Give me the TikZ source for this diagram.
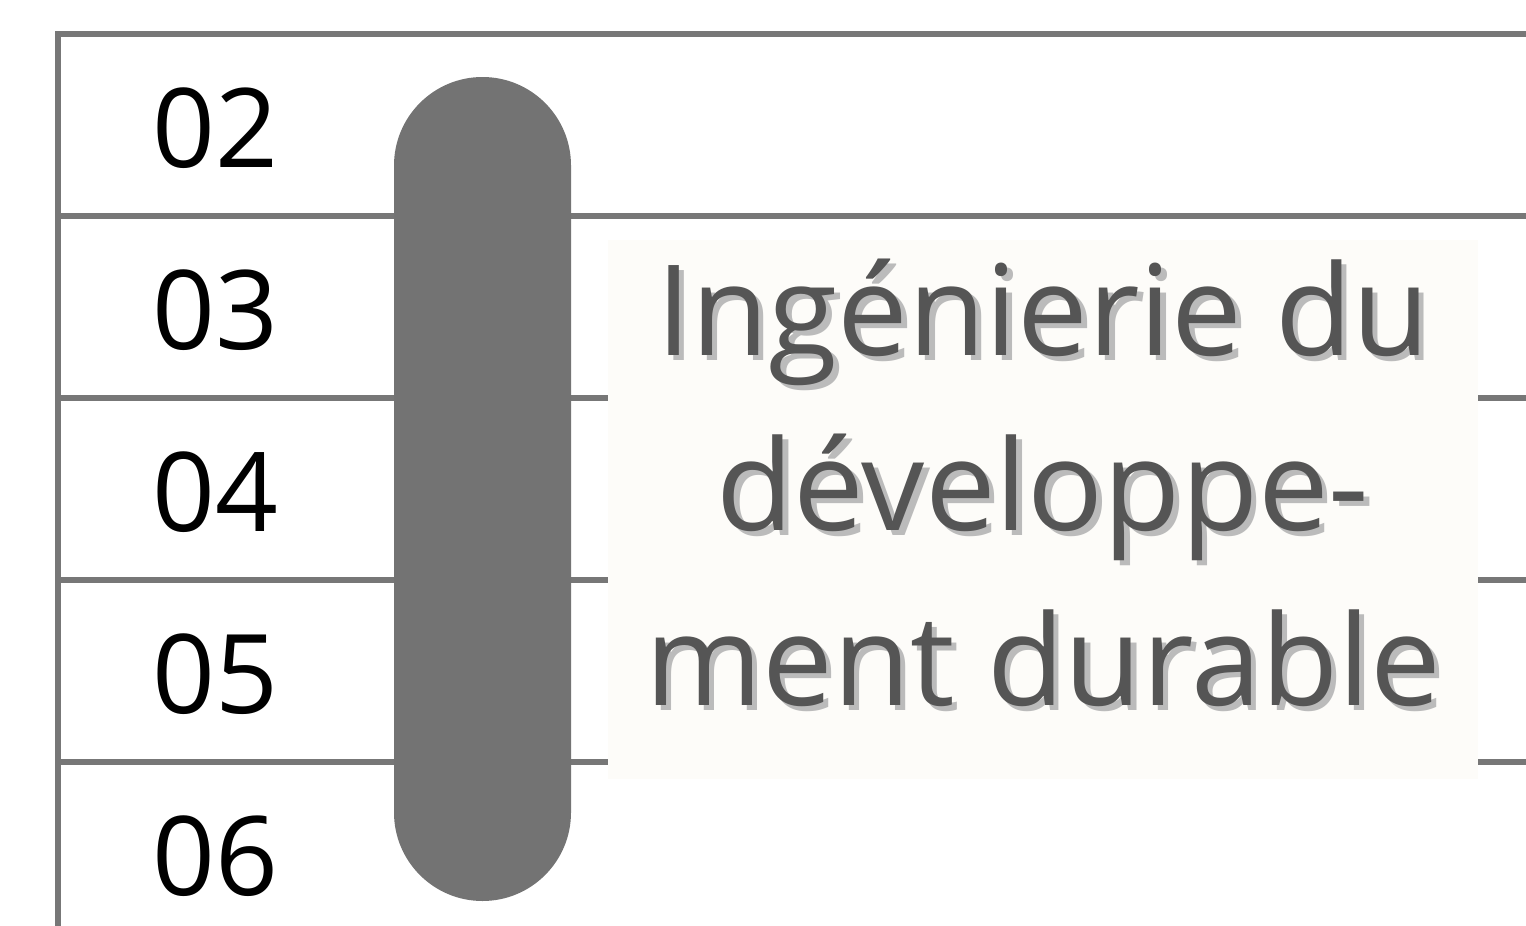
\documentclass[tikz,border=0pt]{standalone}
\usepackage{fontspec}
\setmainfont{Open Sans}
\usepackage{xcolor}
\usetikzlibrary{calc}

\definecolor{gridgray}{HTML}{777777}
\definecolor{pillgray}{HTML}{737373}
\definecolor{titlegray}{HTML}{555555}
\definecolor{shadegray}{HTML}{BBBBBB}
\definecolor{paper}{HTML}{FDFCF9}

\begin{document}
\begin{tikzpicture}[
    x=1pt, y=-1pt,
    % Styles
    gridline/.style={draw=gridgray, line width=6pt},
    yearnum/.style={
        anchor=base,
        inner sep=0pt,
        font=\fontsize{110}{132}\selectfont
    },
    pill/.style={
        rectangle,
        fill=pillgray,
        rounded corners=88.5pt,
        minimum width=177pt,
        minimum height=824pt,
        inner sep=0pt
    },
    titlebox/.style={
        rectangle,
        fill=paper,
        minimum width=870pt,
        minimum height=539pt,
        inner sep=0pt
    },
    titleline/.style={
        anchor=base,
        inner sep=0pt,
        text=titlegray,
        font=\fontsize{126}{175}\selectfont
    },
    titleshade/.style={titleline, text=shadegray}
]
\useasboundingbox (0,0) rectangle (1526,926);

% --- Grid ---
\draw[gridline] (58,926) -- (58,34) -- (1526,34);
\foreach \y in {216,398,580,762}
    \draw[gridline] (55,\y) -- (1526,\y);

% --- Numbers ---
\foreach \n [count=\i from 0] in {02,03,04,05,06}
    \node[yearnum] (num\n) at (215,167+182*\i) {\n};

% --- Bar ---
\node[pill] (bar) at (482.5,489) {};

% --- Title ---
\node[titlebox] (title) at (1043,509.5) {};
\foreach \txt [count=\i from 0] in {Ingénierie du,développe-,ment durable} {
    \node[titleshade] (shade\i) at ($(title.center)+(5.5,-154.5+175*\i+5)$) {\txt};
    \node[titleline] (line\i) at ($(title.center)+(0,-154.5+175*\i)$) {\txt};
}

\end{tikzpicture}
\end{document}
